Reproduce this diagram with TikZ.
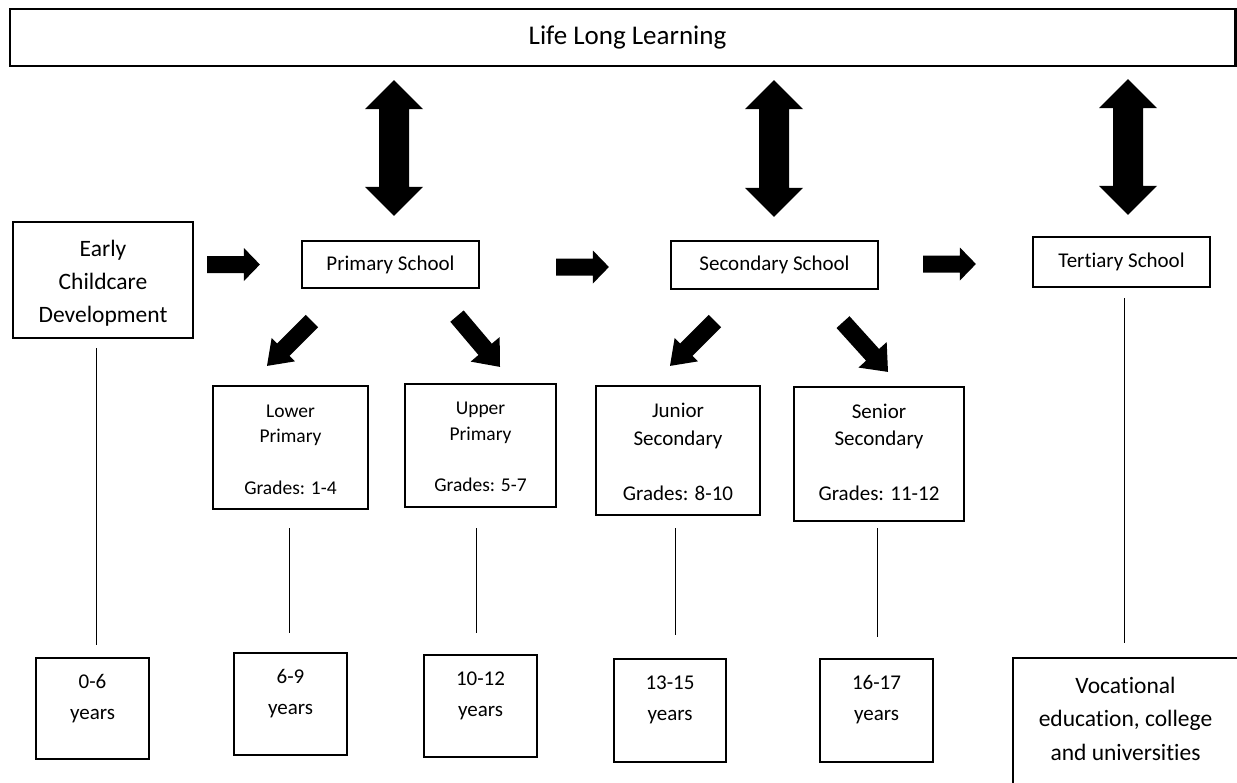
\documentclass[tikz,border=0pt]{standalone}
\usepackage{fontspec}
\setmainfont{Carlito}[Ligatures=NoCommon]
\usetikzlibrary{calc}
\tikzset{
  box/.style={draw=black, line width=2.2pt, inner sep=0pt},
  txt/.style={align=center, inner sep=0pt, text=black},
  vline/.style={draw=black, line width=1pt},
}
\newcommand\fsz[2]{\fontsize{#1}{#2}\selectfont}
% box: name, left, top, right, bottom (pixels, y downward)
\newcommand\bx[5]{\node[box, minimum width={#4-#2}, minimum height={#5-#3}] (#1) at ({(#2+#4)/2},{-(#3+#5)/2}) {};}
% single block arrow: tail #1, tip #2, half shaft #3, half head #4, head length #5
\newcommand\blockarr[5]{%
  \fill[black] ($#1!#3!90:#2$) -- ($#2!#5!#1!#3!270:#1$) -- ($#2!#5!#1!#4!270:#1$) -- #2
  -- ($#2!#5!#1!#4!90:#1$) -- ($#2!#5!#1!#3!90:#1$) -- ($#1!#3!270:#2$) -- cycle;}
% double block arrow: tips #1 and #2
\newcommand\dblarr[5]{%
  \fill[black] #1 -- ($#1!#5!#2!#4!90:#2$) -- ($#1!#5!#2!#3!90:#2$) -- ($#2!#5!#1!#3!270:#1$)
  -- ($#2!#5!#1!#4!270:#1$) -- #2 -- ($#2!#5!#1!#4!90:#1$) -- ($#2!#5!#1!#3!90:#1$)
  -- ($#1!#5!#2!#3!270:#2$) -- ($#1!#5!#2!#4!270:#2$) -- cycle;}
\begin{document}
\begin{tikzpicture}[x=1pt,y=1pt]
\useasboundingbox (0,0) rectangle (1237,-782);
\fill[white] (0,0) rectangle (1237,-782);
% boxes
\bx{top}{10}{9}{1235.5}{66}
\bx{ecd}{13}{222}{193}{338}
\bx{primary}{302}{241}{479}{288}
\bx{secondary}{671}{241}{878}{289}
\bx{tertiary}{1033}{237}{1210}{287}
\bx{lp}{213}{386}{368}{509}
\bx{up}{405}{384}{556}{507}
\bx{js}{596}{386}{760}{515}
\bx{ss}{794}{387}{964}{521}
\bx{b06}{36}{658}{149}{759}
\bx{b69}{234}{653}{347}{755}
\bx{b1012}{424}{655}{537}{757}
\bx{b1315}{614}{659}{726}{762}
\bx{b1617}{820}{659}{933}{762}
\bx{voc}{1013}{658}{1260}{800}
% texts
\node[txt, font=\fsz{27}{32}] (toptxt) at (627.5,-37.5) {Life Long Learning};
\node[txt, font=\fsz{23.5}{33}] (ecdtxt) at (103,-283) {Early\\Childcare\\Development};
\node[txt, font=\fsz{21}{26}] (primarytxt) at (390.5,-265) {Primary School};
\node[txt, font=\fsz{21}{26}] (secondarytxt) at (774.5,-265) {Secondary School};
\node[txt, font=\fsz{21}{26}] (tertiarytxt) at (1121.5,-262) {Tertiary School};
\node[txt, font=\fsz{19.5}{25.7}] (lptxt) at (290.5,-449.5) {Lower\\Primary\\[25.7pt]Grades: 1-4};
\node[txt, font=\fsz{19.5}{25.7}] (uptxt) at (480.5,-447) {Upper\\Primary\\[25.7pt]Grades: 5-7};
\node[txt, font=\fsz{21}{27.5}] (jstxt) at (678,-452) {Junior\\Secondary\\[27.5pt]Grades: 8-10};
\node[txt, font=\fsz{21}{27.5}] (sstxt) at (879,-452.5) {Senior\\Secondary\\[27.5pt]Grades: 11-12};
\node[txt, font=\fsz{21}{31}] (t06) at (92.5,-698.5) {0-6\\years};
\node[txt, font=\fsz{21}{31}] (t69) at (290.5,-694) {6-9\\years};
\node[txt, font=\fsz{21}{31}] (t1012) at (480.5,-696) {10-12\\years};
\node[txt, font=\fsz{21}{31}] (t1315) at (670,-700) {13-15\\years};
\node[txt, font=\fsz{21}{31}] (t1617) at (876.5,-700) {16-17\\years};
\node[txt, font=\fsz{23.5}{33.5}] (voctxt) at (1125.5,-718.5) {Vocational\\education, college\\and universities};
% horizontal arrows
\coordinate (h1s) at ($(ecd.east |- primary.west)+(13,0)$);
\coordinate (h1e) at ($(primary.west)+(-41,0)$);
\coordinate (h2s) at ($(primary.east)+(76,-2.5)$);
\coordinate (h2e) at ($(secondary.west)+(-61,-2)$);
\coordinate (h3s) at ($(secondary.east)+(44,1)$);
\coordinate (h3e) at ($(tertiary.west)+(-56,-2)$);
\blockarr{(h1s)}{(h1e)}{8.5pt}{16.5pt}{16pt}
\blockarr{(h2s)}{(h2e)}{8.5pt}{16.5pt}{16pt}
\blockarr{(h3s)}{(h3e)}{8.5pt}{16.5pt}{16pt}
% double arrows
\coordinate (d1a) at ($(primary.north)+(3.5,24)$);
\coordinate (d1b) at ($(d1a |- top.south)+(0,-13)$);
\coordinate (d2a) at ($(secondary.north)+(-0.5,23)$);
\coordinate (d2b) at ($(d2a |- top.south)+(0,-13)$);
\coordinate (d3a) at ($(tertiary.north)+(6.5,21)$);
\coordinate (d3b) at ($(d3a |- top.south)+(0,-12)$);
\dblarr{(d1a)}{(d1b)}{15pt}{29pt}{29pt}
\dblarr{(d2a)}{(d2b)}{15pt}{29pt}{29pt}
\dblarr{(d3a)}{(d3b)}{15pt}{29pt}{29pt}
% diagonal arrows
\coordinate (g1s) at ($(primary.south)+(-78.5,-32)$);
\coordinate (g1e) at ($(lp.north)+(-23.5,19)$);
\coordinate (g2s) at ($(primary.south)+(66.5,-27)$);
\coordinate (g2e) at ($(up.north)+(19.5,16)$);
\coordinate (g3s) at ($(secondary.south)+(-59.5,-31)$);
\coordinate (g3e) at ($(js.north)+(-8,19)$);
\coordinate (g4s) at ($(secondary.south)+(68.5,-32)$);
\coordinate (g4e) at ($(ss.north)+(9,14)$);
\blockarr{(g1s)}{(g1e)}{8.75pt}{16.5pt}{23pt}
\blockarr{(g2s)}{(g2e)}{8.75pt}{19pt}{23pt}
\blockarr{(g3s)}{(g3e)}{8.75pt}{16.5pt}{23pt}
\blockarr{(g4s)}{(g4e)}{8.75pt}{19pt}{23pt}
% vertical lines
\coordinate (v1a) at (96,-348);   \coordinate (v1b) at (96,-645);
\coordinate (v2a) at (289,-528);  \coordinate (v2b) at (289,-633);
\coordinate (v3a) at (476.5,-528); \coordinate (v3b) at (476.5,-633);
\coordinate (v4a) at (675.5,-528); \coordinate (v4b) at (675.5,-635);
\coordinate (v5a) at (877,-528);  \coordinate (v5b) at (877,-637);
\coordinate (v6a) at (1124,-298); \coordinate (v6b) at (1124,-643);
\draw[vline] (v1a) -- (v1b);
\draw[vline] (v2a) -- (v2b);
\draw[vline] (v3a) -- (v3b);
\draw[vline] (v4a) -- (v4b);
\draw[vline] (v5a) -- (v5b);
\draw[vline] (v6a) -- (v6b);
\end{tikzpicture}
\end{document}
